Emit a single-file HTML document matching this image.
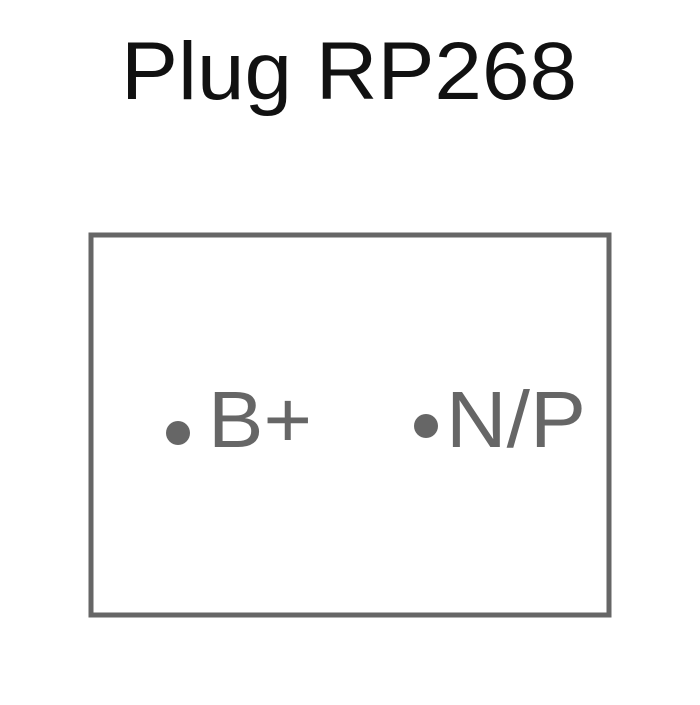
<!DOCTYPE html>
<html><head><style>
html,body{margin:0;padding:0;background:#fff;}
</style></head><body>
<svg width="700" height="700" xmlns="http://www.w3.org/2000/svg">
<rect width="700" height="700" fill="#fff"/>
<text x="121" y="99" textLength="456" lengthAdjust="spacingAndGlyphs" font-family="Liberation Sans, sans-serif" font-size="82" fill="#111">Plug RP268</text>
<rect x="91" y="235" width="518" height="380" fill="none" stroke="#666" stroke-width="5"/>
<circle cx="178" cy="433" r="12" fill="#666"/>
<text x="208" y="447" textLength="104" lengthAdjust="spacingAndGlyphs" font-family="Liberation Sans, sans-serif" font-size="80" fill="#666">B+</text>
<circle cx="426" cy="426" r="12" fill="#666"/>
<text x="446" y="447" textLength="140" lengthAdjust="spacingAndGlyphs" font-family="Liberation Sans, sans-serif" font-size="80" fill="#666">N/P</text>
</svg>
</body></html>
